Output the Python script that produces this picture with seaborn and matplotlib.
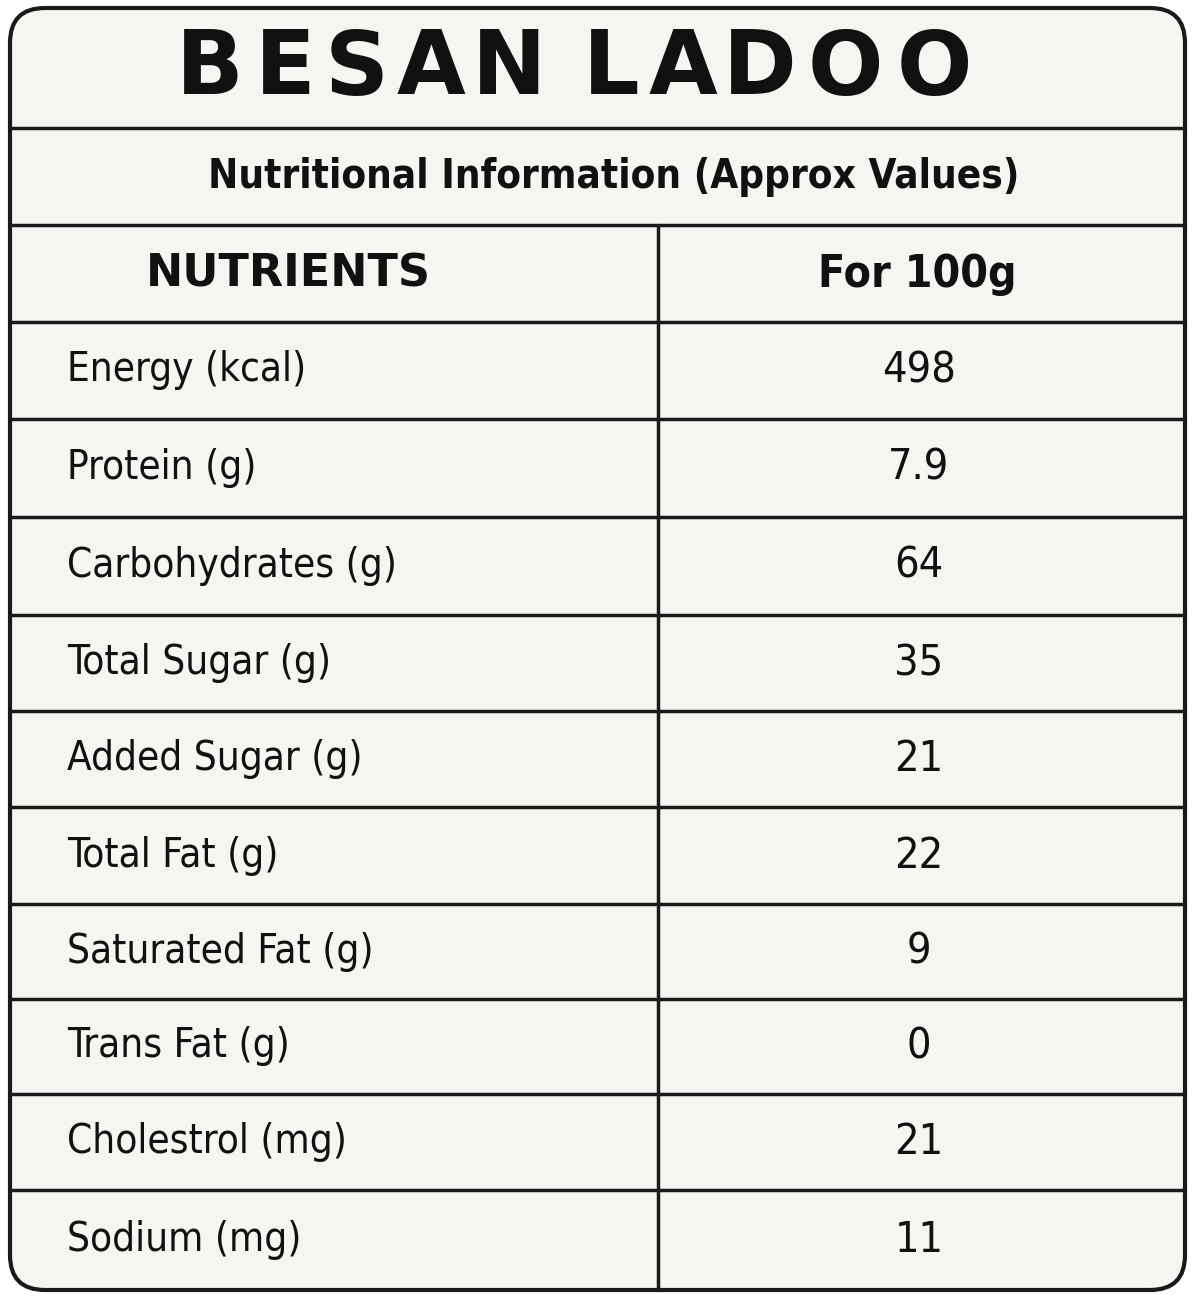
import matplotlib
matplotlib.use("Agg")
import matplotlib.pyplot as plt
from matplotlib.patches import FancyBboxPatch
import seaborn as sns

sns.set_style("white")

title = "BESAN LADOO"
subtitle = "Nutritional Information (Approx Values)"
headers = ["NUTRIENTS", "For 100g"]
nutrients = ["Energy (kcal)", "Protein (g)", "Carbohydrates (g)", "Total Sugar (g)",
             "Added Sugar (g)", "Total Fat (g)", "Saturated Fat (g)", "Trans Fat (g)",
             "Cholestrol (mg)", "Sodium (mg)"]
values = ["498", "7.9", "64", "35", "21", "22", "9", "0", "21", "11"]

fam = ["DejaVu Sans"]
bg = "#f7f5f1"

fig = plt.figure(figsize=(11.95, 13.16), dpi=100)
fig.patch.set_facecolor("white")
ax = fig.add_axes([0, 0, 1, 1])
ax.set_xlim(0, 1195)
ax.set_ylim(1316, 0)
ax.axis("off")

left, right, top, bottom = 10, 1185, 8, 1290
ax.add_patch(FancyBboxPatch((left, top), right - left, bottom - top,
                            boxstyle="round,pad=0,rounding_size=35",
                            fc=bg, ec="#1a1a1a", lw=3))

# horizontal rules
lines = [128, 225, 322, 419, 517, 615, 711, 807, 904, 999, 1094, 1190]
for y in lines:
    ax.plot([left, right], [y, y], color="#1a1a1a", lw=2.5)
ax.plot([658, 658], [225, bottom], color="#1a1a1a", lw=2.5)

# spaced title, letters laid out across the title band
letters_x = [210, 285, 357, 431, 509, 0, 611, 683, 760, 845, 934]
for ch, x in zip(title, letters_x):
    if ch != " ":
        ax.text(x, 70, ch, ha="center", va="center", fontsize=64,
                fontweight="bold", family=fam, color="#111")

ax.text(614, 177, subtitle, ha="center", va="center", fontsize=29,
        fontweight="bold", family=fam, fontstretch="condensed", color="#111")
ax.text(288, 274, headers[0], ha="center", va="center", fontsize=32,
        fontweight="bold", family=fam, color="#111")
ax.text(917, 274, headers[1], ha="center", va="center", fontsize=32,
        fontweight="bold", family=fam, fontstretch="condensed", color="#111")

rows = [322] + lines[3:] + [bottom]
for i, (n, v) in enumerate(zip(nutrients, values)):
    yc = (rows[i] + rows[i + 1]) / 2
    ax.text(67, yc, n, ha="left", va="center", fontsize=29, family=fam,
            fontstretch="condensed", color="#111")
    ax.text(919, yc, v, ha="center", va="center", fontsize=31, family=fam,
            fontstretch="condensed", color="#111")

fig.savefig("out.png", dpi=100)
